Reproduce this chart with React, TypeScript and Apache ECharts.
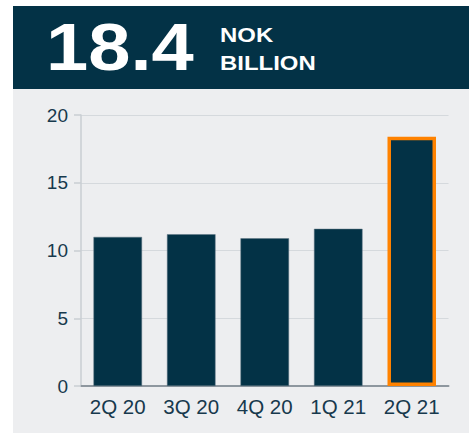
import React, { useEffect, useRef } from "react";
import * as echarts from "echarts";

const categories = ["2Q 20", "3Q 20", "4Q 20", "1Q 21", "2Q 21"];
const values = [11.0, 11.2, 10.9, 11.6, 18.4];
const highlightIndex = 4;
const headlineValue = "18.4";
const headlineUnit = ["NOK", "BILLION"];

const NAVY = "#033246";
const FONT = "'Liberation Sans', Arial, sans-serif";

export default function App() {
  const ref = useRef<HTMLDivElement>(null);
  useEffect(() => {
    document.body.style.margin = "0";
    const chart = echarts.init(ref.current!, null, { renderer: "svg" });
    chart.setOption({
      animation: false,
      backgroundColor: "#ffffff",
      graphic: [
        { type: "rect", z: -10, shape: { x: 13, y: 89, width: 456, height: 344 }, style: { fill: "#EDEEF0" } },
        { type: "rect", z: -10, shape: { x: 13, y: 6, width: 456, height: 83 }, style: { fill: NAVY } },
        {
          type: "text", x: 46, y: 47, scaleX: 1.15,
          style: { text: headlineValue, fill: "#ffffff", font: `bold 66px ${FONT}`, verticalAlign: "middle", align: "left" },
        },
        {
          type: "text", x: 220, y: 35, scaleX: 1.14,
          style: { text: headlineUnit[0], fill: "#ffffff", font: `bold 21px ${FONT}`, verticalAlign: "middle", align: "left" },
        },
        {
          type: "text", x: 220, y: 63.5, scaleX: 1.14,
          style: { text: headlineUnit[1], fill: "#ffffff", font: `bold 21px ${FONT}`, verticalAlign: "middle", align: "left" },
        },
      ],
      grid: { left: 81, right: 20.5, top: 115, bottom: 48, containLabel: false },
      xAxis: {
        type: "category",
        data: categories,
        axisLine: { show: true, lineStyle: { color: "#8E979F", width: 2 } },
        axisTick: { show: false },
        axisLabel: { color: "#17394D", fontSize: 20.5, fontFamily: FONT, margin: 10 },
      },
      yAxis: {
        type: "value",
        min: 0,
        max: 20,
        interval: 5,
        axisLine: { show: true, lineStyle: { color: "#C9CED3", width: 1.5 } },
        axisTick: { show: true, length: 7, lineStyle: { color: "#C9CED3", width: 1.5 } },
        splitLine: { show: true, lineStyle: { color: "#D5D9DD", width: 1 } },
        axisLabel: { color: "#17394D", fontSize: 19, fontFamily: FONT, margin: 13 },
      },
      series: [
        {
          type: "bar",
          barWidth: "66%",
          data: values.map((v, i) =>
            i === highlightIndex
              ? { value: v, itemStyle: { color: NAVY, borderColor: "#FF8200", borderWidth: 3.5 } }
              : { value: v, itemStyle: { color: NAVY, borderColor: "#5E7482", borderWidth: 0.5 } }
          ),
        },
      ],
    });
    return () => chart.dispose();
  }, []);
  return <div ref={ref} style={{ width: 469, height: 434, position: "absolute", left: 0, top: 0 }} />;
}
